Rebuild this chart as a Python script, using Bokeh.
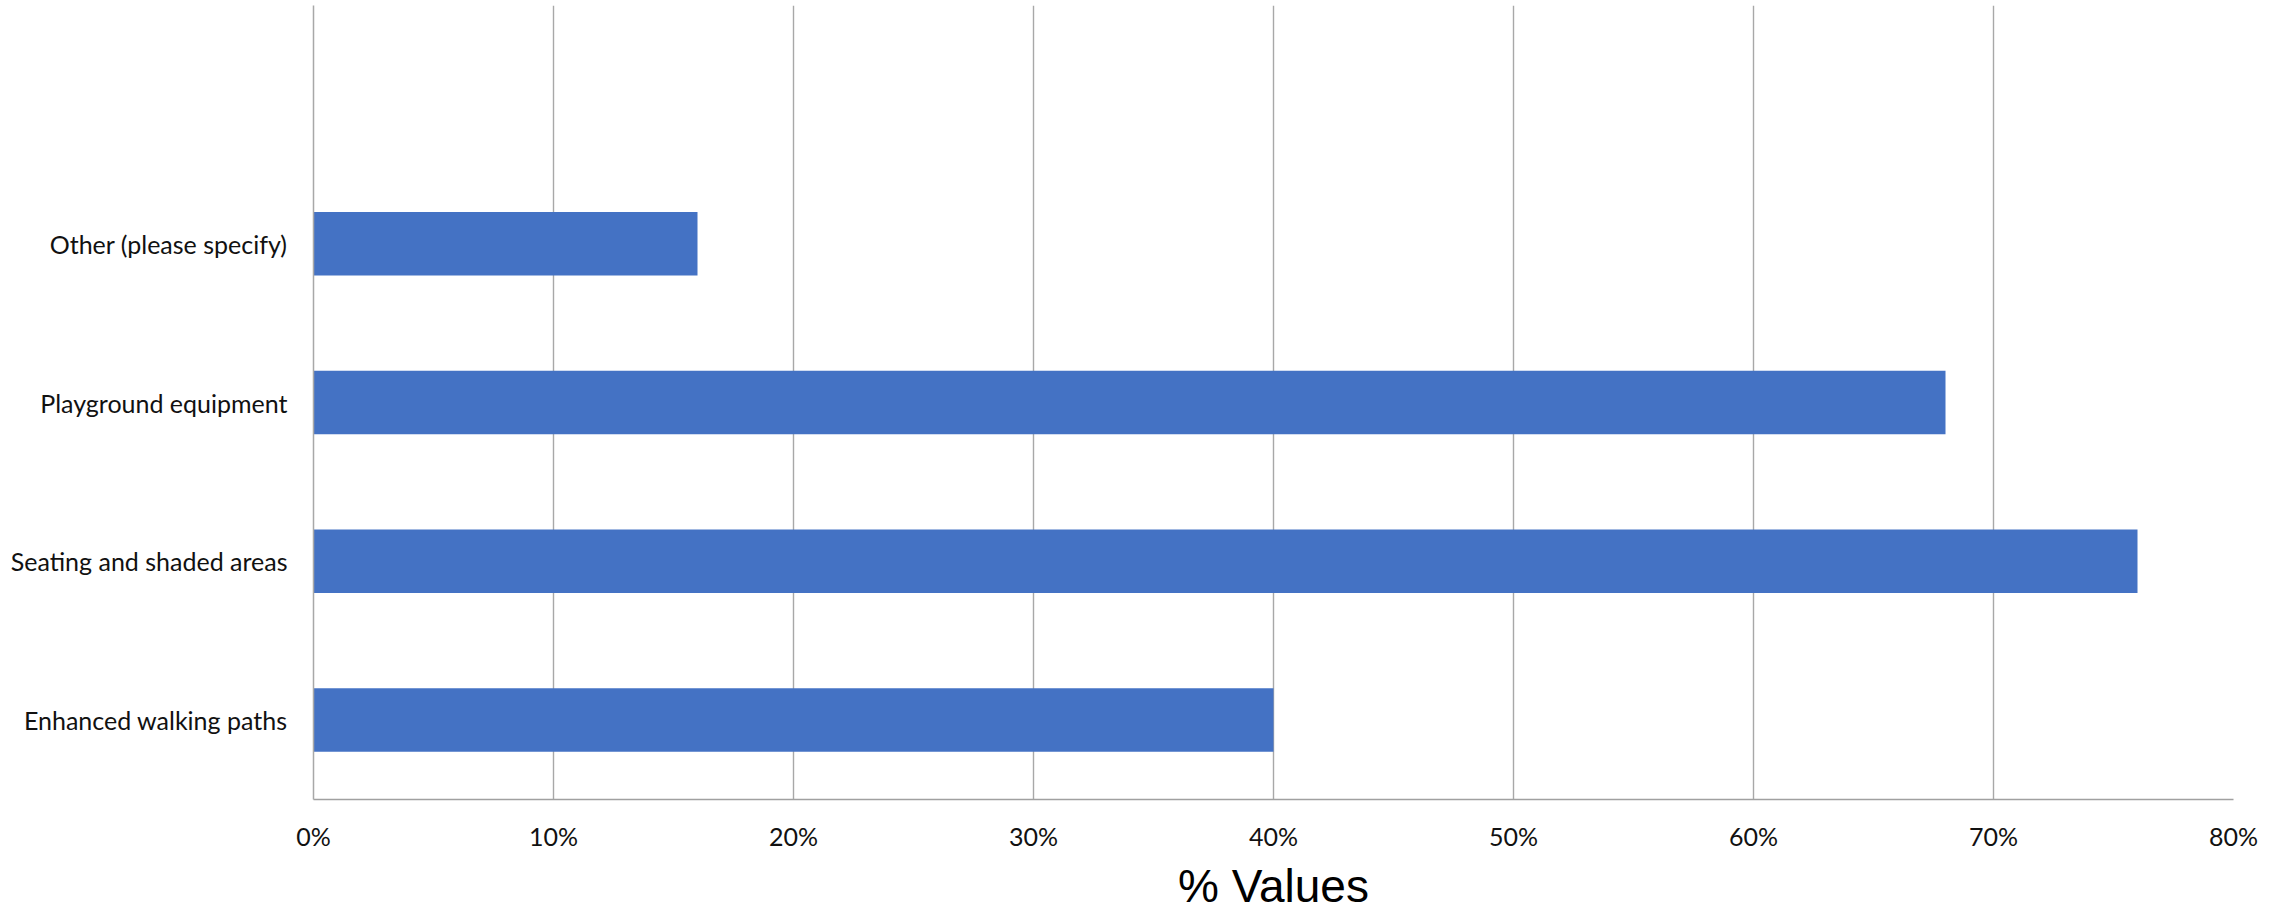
from bokeh.plotting import figure
from bokeh.models import Range1d, FixedTicker, NumeralTickFormatter, ColumnDataSource
from bokeh.embed import file_html
from bokeh.resources import INLINE

categories = ["Enhanced walking paths", "Seating and shaded areas",
              "Playground equipment", "Other (please specify)"]
values = [0.40, 0.76, 0.68, 0.16]
x_ticks = [0.0, 0.1, 0.2, 0.3, 0.4, 0.5, 0.6, 0.7, 0.8]
x_title = "% Values"

slots = len(categories) + 1
ypos = [i + 0.5 for i in range(len(categories))]
src = ColumnDataSource(dict(y=ypos, v=values, cat=categories))

p = figure(output_backend="svg", toolbar_location=None,
           frame_width=1920, frame_height=794,
           min_border_left=313, min_border_right=38, min_border_top=5,
           x_range=Range1d(0, 0.8), y_range=Range1d(0, slots))

p.hbar(y="y", right="v", left=0, height=0.40, source=src,
       fill_color="#4472C4", line_color=None)

p.outline_line_color = None
p.background_fill_color = "white"

# x axis
xa = p.xaxis[0]
xa.ticker = FixedTicker(ticks=x_ticks)
xa.formatter = NumeralTickFormatter(format="0%")
xa.major_tick_line_color = None
xa.minor_tick_line_color = None
xa.major_tick_out = 0
xa.major_label_standoff = 21
xa.major_label_text_font = "Lato"
xa.major_label_text_font_size = "25px"
xa.major_label_text_color = "#111111"
xa.axis_line_color = "#A0A0A0"
xa.axis_line_width = 1.5
xa.axis_label = x_title
xa.axis_label_text_font = "Liberation Sans"
xa.axis_label_text_font_style = "normal"
xa.axis_label_text_font_size = "46px"
xa.axis_label_text_color = "#000000"
xa.axis_label_standoff = 6

# y axis
ya = p.yaxis[0]
ya.ticker = FixedTicker(ticks=ypos)
ya.major_label_overrides = {y: c for y, c in zip(ypos, categories)}
ya.major_tick_line_color = None
ya.minor_tick_line_color = None
ya.major_tick_out = 0
ya.major_label_standoff = 26
ya.major_label_text_font = "Lato"
ya.major_label_text_font_size = "25px"
ya.major_label_text_color = "#111111"
ya.axis_line_color = "#A8A8A8"
ya.axis_line_width = 1.5

p.xgrid.ticker = FixedTicker(ticks=x_ticks)
p.xgrid.grid_line_color = "#A8A8A8"
p.xgrid.grid_line_width = 1.4
p.ygrid.grid_line_color = None

open("out.html", "w").write(file_html(p, INLINE))
